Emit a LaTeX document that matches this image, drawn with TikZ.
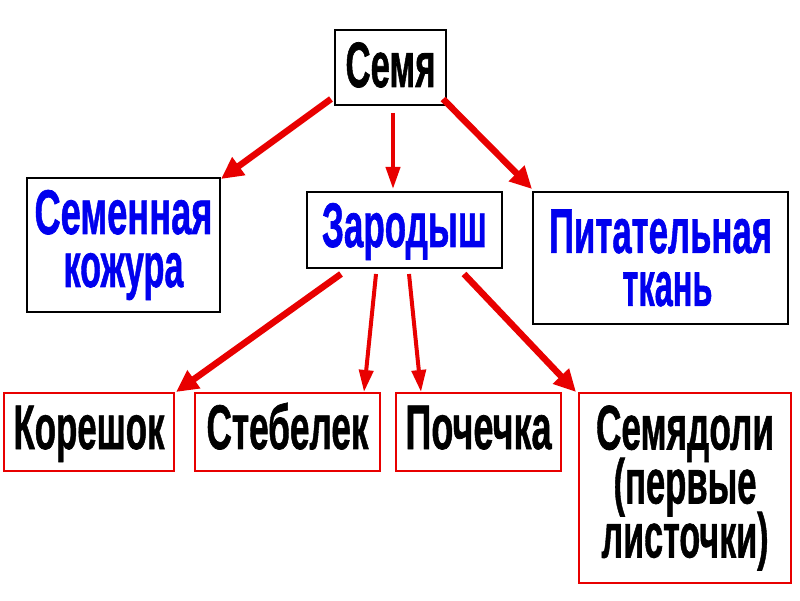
\documentclass[tikz,border=0pt]{standalone}
\usepackage{fontspec}
\setmainfont{Liberation Sans}[BoldFeatures={FakeBold=1.2}]
\usepackage{graphicx}
\usetikzlibrary{arrows.meta,calc}
\definecolor{arrred}{RGB}{232,0,0}
\definecolor{txtblue}{RGB}{0,0,238}
\newcommand{\wl}[2]{\resizebox{#1pt}{\height}{#2}}
\lineskiplimit=-100pt
\begin{document}
\begin{tikzpicture}[x=1pt,y=1pt,
  blackbox/.style={draw=black,line width=2pt,fill=white,rectangle,inner sep=0pt,align=center,
    font=\fontsize{63}{53}\selectfont\bfseries},
  redbox/.style={draw=arrred,line width=2pt,fill=white,rectangle,inner sep=0pt,align=center,
    font=\fontsize{63}{54}\selectfont\bfseries},
  oneline/.style={text height=44pt,text depth=10pt},
  thickarr/.style={draw=arrred,line width=6.5pt,-{Triangle[length=22pt,width=21pt]}},
  thinarr/.style={draw=arrred,line width=4pt,-{Triangle[length=22pt,width=14pt]}}]
\useasboundingbox (0,0) rectangle (800,600);
\fill[white] (0,0) rectangle (800,600);

\node[blackbox,minimum width=111pt,minimum height=75pt,text height=44pt,text depth=5pt,font=\fontsize{64}{56}\selectfont\bfseries] (semya) at (390.5,532.5) {\wl{90}{Семя}};
\node[blackbox,minimum width=193pt,minimum height=134pt,text=txtblue] (kozhura) at (123.5,355) {\wl{178}{Семенная}\\ \wl{120}{кожура}};
\node[blackbox,oneline,minimum width=195pt,minimum height=76pt,text=txtblue] (zarodysh) at (404.5,370) {\wl{165}{Зародыш}};
\node[blackbox,minimum width=255pt,minimum height=132pt,text=txtblue] (tkan) at (660.5,342) {\wl{223}{Питательная}\\ \hspace*{14pt}\wl{90}{ткань}};

\node[redbox,oneline,minimum width=170pt,minimum height=78pt] (koreshok) at (89,168) {\wl{151}{Корешок}};
\node[redbox,oneline,minimum width=185pt,minimum height=78pt] (stebelek) at (287.5,168) {\wl{162}{Стебелек}};
\node[redbox,oneline,minimum width=165pt,minimum height=78pt] (pochechka) at (478.5,168) {\wl{146}{Почечка}};
\node[redbox,minimum width=212pt,minimum height=190pt] (semyadoli) at (685,112) {\wl{178}{Семядоли}\\ \wl{143}{(первые}\\ \wl{167}{листочки)}};

\draw[thickarr] ($(semya.south west)+(-3,7)$) -- ($(kozhura.north east)+(0,-2)$);
\draw[thinarr] ($(semya.south)+(2.5,-7)$) -- ($(zarodysh.north)+(-11.5,2)$);
\draw[thickarr] ($(semya.south east)+(-4,7)$) -- ($(tkan.north west)+(0,2)$);

\draw[thickarr] ($(zarodysh.south west)+(35,-5)$) -- ($(koreshok.north east)+(1,0)$);
\draw[thinarr] ($(zarodysh.south)+(-28.5,-5)$) -- ($(stebelek.north east)+(-17,0)$);
\draw[thinarr] ($(zarodysh.south)+(4.5,-5)$) -- ($(pochechka.north west)+(26,0)$);
\draw[thickarr] ($(zarodysh.south east)+(-39,-5)$) -- ($(semyadoli.north west)+(-2,0)$);
\end{tikzpicture}
\end{document}
